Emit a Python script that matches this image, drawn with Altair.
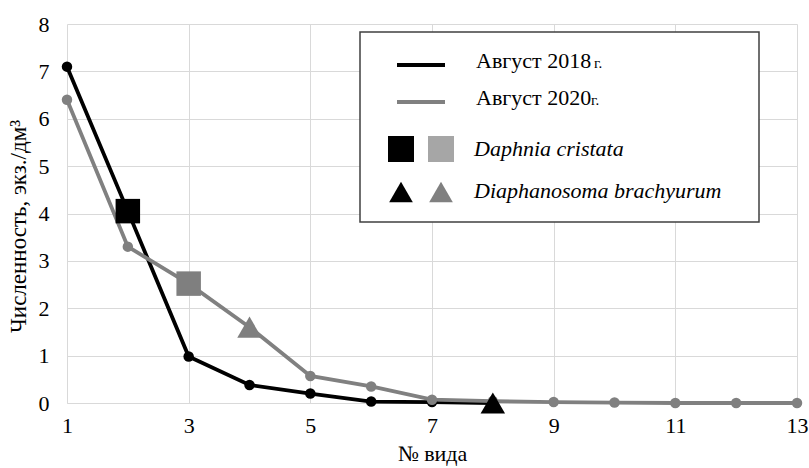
import altair as alt
import pandas as pd

# ---- data ----
x2018 = [1, 2, 3, 4, 5, 6, 7, 8]
y2018 = [7.1, 4.05, 0.98, 0.38, 0.2, 0.03, 0.02, 0.0]
x2020 = [1, 2, 3, 4, 5, 6, 7, 8, 9, 10, 11, 12, 13]
y2020 = [6.4, 3.3, 2.52, 1.6, 0.57, 0.35, 0.07, 0.04, 0.02, 0.01, 0.0, 0.0, 0.0]
series_names = ["Август 2018", "Август 2020"]

# special species markers
sp_x = [2, 3, 4, 8]
sp_y = [4.05, 2.52, 1.6, 0.0]
sp_shape = ["square", "square", "triangle-up", "triangle-up"]
sp_color = ["#000000", "#7f7f7f", "#7f7f7f", "#000000"]

x_ticks = [1, 3, 5, 7, 9, 11, 13]
y_ticks = [0, 1, 2, 3, 4, 5, 6, 7, 8]

legend_species = ["Daphnia cristata", "Diaphanosoma brachyurum"]

FONT = "Times New Roman, Liberation Serif, serif"

rows = []
for x, y in zip(x2018, y2018):
    rows.append({"x": x, "y": y, "s": series_names[0]})
for x, y in zip(x2020, y2020):
    rows.append({"x": x, "y": y, "s": series_names[1]})
df = pd.DataFrame(rows)

df_circ = df[[not (r.s == series_names[1] and r.x in (3, 4)) and not (r.s == series_names[0] and r.x in (2, 8))
              for r in df.itertuples()]]

sp_df = pd.DataFrame({"x": sp_x, "y": sp_y, "shape": sp_shape, "color": sp_color})

xs = alt.X("x:Q", scale=alt.Scale(domain=[1, 13], nice=False, zero=False),
           axis=alt.Axis(values=x_ticks, format="d", title="№ вида", grid=True, gridColor="#d9d9d9",
                         ticks=False, domain=True, domainColor="#d9d9d9", labelFlush=False,
                         labelFont=FONT, labelFontSize=22, labelColor="#000000",
                         labelPadding=12, titleFont=FONT, titleFontSize=22,
                         titleFontWeight="normal", titleColor="#000000", titlePadding=7))
ys = alt.Y("y:Q", scale=alt.Scale(domain=[0, 8], nice=False),
           axis=alt.Axis(values=y_ticks, format="d", title="Численность, экз./дм³", grid=True,
                         gridColor="#d9d9d9", ticks=False, domain=False, labelFlush=False,
                         labelFont=FONT, labelFontSize=22, labelColor="#000000",
                         labelPadding=18, titleFont=FONT, titleFontSize=23, titleY=202,
                         titleFontWeight="normal", titleColor="#000000", titlePadding=8))

color_scale = alt.Scale(domain=series_names, range=["#000000", "#808080"])

lines = alt.Chart(df).mark_line(strokeWidth=3.8).encode(
    x=xs, y=ys,
    color=alt.Color("s:N", scale=color_scale, legend=None),
    order=alt.Order("s:N", sort="descending"),
)

circles = alt.Chart(df_circ).mark_point(filled=True, shape="circle", size=110, opacity=1).encode(
    x="x:Q", y="y:Q",
    color=alt.Color("s:N", scale=color_scale, legend=None),
)

spec = alt.Chart(sp_df).mark_point(filled=True, opacity=1).encode(
    x="x:Q", y="y:Q",
    shape=alt.Shape("shape:N", scale=None),
    color=alt.Color("color:N", scale=None),
    size=alt.value(600),
)

one = pd.DataFrame({"a": [0]})

box = alt.Chart(one).mark_rect(fill="white", stroke="#404040", strokeWidth=1.5).encode(
    x=alt.value(293), x2=alt.value(692), y=alt.value(8), y2=alt.value(198))

leg_line1 = alt.Chart(one).mark_rule(color="#000000", strokeWidth=4).encode(
    x=alt.value(330), x2=alt.value(378), y=alt.value(41))
leg_line2 = alt.Chart(one).mark_rule(color="#808080", strokeWidth=4).encode(
    x=alt.value(330), x2=alt.value(378), y=alt.value(78))

def txt(text, x, y, size=22, style="normal"):
    return alt.Chart(one).mark_text(font=FONT, fontSize=size, fontStyle=style, align="left",
                                    baseline="alphabetic", color="#000000").encode(
        x=alt.value(x), y=alt.value(y), text=alt.value(text))

t1 = txt(series_names[0], 409, 44)
t1g = txt("г.", 527, 44, size=15)
t2 = txt(series_names[1], 409, 81)
t2g = txt("г.", 524, 81, size=15)
t3 = txt(legend_species[0], 407, 132, style="italic")
t4 = txt(legend_species[1], 407, 174, style="italic")

def sym(shape, color, x, y, size):
    return alt.Chart(one).mark_point(filled=True, opacity=1, shape=shape, color=color, size=size).encode(
        x=alt.value(x), y=alt.value(y))

s1 = sym("square", "#000000", 334, 125, 676)
s2 = sym("square", "#a6a6a6", 374, 125, 676)
s3 = sym("triangle-up", "#000000", 334, 168, 560)
s4 = sym("triangle-up", "#808080", 374, 168, 560)

chart = alt.layer(lines, circles, spec, box, leg_line1, leg_line2, t1, t1g, t2, t2g, t3, t4,
                  s1, s2, s3, s4).properties(
    width=730, height=379,
    autosize=alt.AutoSizeParams(type="none"),
    padding={"left": 67, "top": 24, "right": 12, "bottom": 65},
    background="white",
).configure_view(stroke=None)

chart.save("out.html", embed_options={"renderer": "svg", "actions": False})
